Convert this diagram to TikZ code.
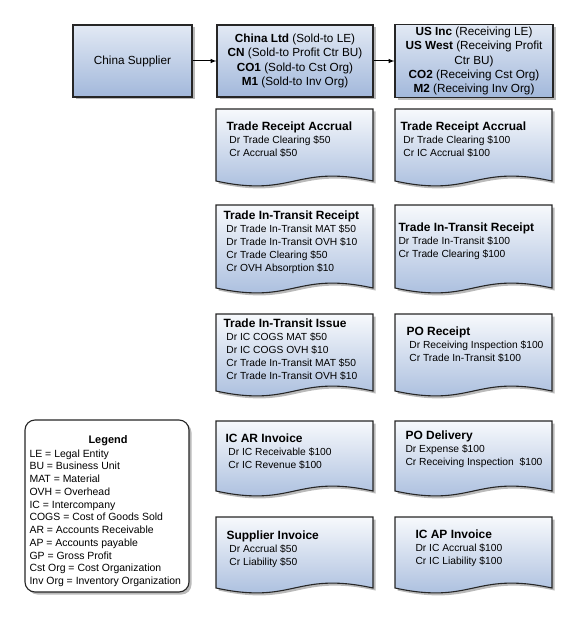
\documentclass[tikz,border=0pt]{standalone}
\usepackage{fontspec}
\setmainfont{Liberation Sans}
\usepackage{xcolor}
\usepackage{tikz}
\usetikzlibrary{shadows}

\definecolor{boxtop}{HTML}{E2E9F4}
\definecolor{boxbot}{HTML}{A2B8DB}
\definecolor{doctop}{HTML}{F7F9FC}

\newcommand{\doctitle}[1]{{\fontsize{12}{13}\selectfont\bfseries #1}}

\begin{document}
\begin{tikzpicture}[
		%Global config
		>=latex,
		x=1bp, y=-1bp,
		line width=1.1bp,
		color=black,
		%Styles
		Shadow/.style={
			drop shadow={shadow xshift=2.5bp, shadow yshift=-2.5bp, fill=black!45, opacity=0.6},
		},
		Entity/.style={
			draw=black!85,
			top color=boxtop,
			bottom color=boxbot,
			Shadow,
			minimum width=156bp,
			minimum height=72bp,
			inner sep=2bp,
			align=center,
			font=\fontsize{11.8}{14.5}\selectfont,
		},
		Doc/.style={
			draw=black!85,
			top color=doctop,
			bottom color=boxbot,
			Shadow,
		},
		DocText/.style={
			anchor=north west,
			inner sep=0pt,
			align=left,
			font=\fontsize{10.3}{13}\selectfont,
		},
		LegendBox/.style={
			draw=black!85,
			fill=white,
			rounded corners=10bp,
			Shadow,
		},
		link/.style={
			->,
			line width=1bp,
		}
		]
		\useasboundingbox (0,0) rectangle (576,624);

		% Top row: legal entities
		\node[Entity, minimum width=119bp] (supplier) at (132.5,61) {China Supplier};
		\node[Entity] (soldto) at (295,61) {\textbf{China Ltd} (Sold-to LE)\\ \textbf{CN} (Sold-to Profit Ctr BU)\\ \textbf{CO1} (Sold-to Cst Org)\\ \textbf{M1} (Sold-to Inv Org)};
		\node[Entity, minimum width=158bp] (receiving) at (474,61) {\textbf{US Inc} (Receiving LE)\\ \textbf{US West} (Receiving Profit\\ Ctr BU)\\ \textbf{CO2} (Receiving Cst Org)\\ \textbf{M2} (Receiving Inv Org)};

		\draw[link] (supplier) -- (soldto);
		\draw[link] (soldto) -- (receiving);

		% Document shapes, left column
		\draw[Doc] (216,109) -- (373,109) -- (373,181) .. controls +(-78,-17) and +(78,17) .. (216,181) -- cycle;
		\draw[Doc] (216,205) -- (373,205) -- (373,288) .. controls +(-78,-17) and +(78,17) .. (216,288) -- cycle;
		\draw[Doc] (216,314) -- (373,314) -- (373,391) .. controls +(-78,-17) and +(78,17) .. (216,391) -- cycle;
		\draw[Doc] (216,421) -- (373,421) -- (373,491) .. controls +(-78,-17) and +(78,17) .. (216,491) -- cycle;
		\draw[Doc] (216,517) -- (373,517) -- (373,588) .. controls +(-78,-17) and +(78,17) .. (216,588) -- cycle;
		% Document shapes, right column
		\draw[Doc] (395,109) -- (552,109) -- (552,181) .. controls +(-78,-17) and +(78,17) .. (395,181) -- cycle;
		\draw[Doc] (395,205) -- (552,205) -- (552,288) .. controls +(-78,-17) and +(78,17) .. (395,288) -- cycle;
		\draw[Doc] (395,314) -- (552,314) -- (552,391) .. controls +(-78,-17) and +(78,17) .. (395,391) -- cycle;
		\draw[Doc] (395,421) -- (552,421) -- (552,491) .. controls +(-78,-17) and +(78,17) .. (395,491) -- cycle;
		\draw[Doc] (395,517) -- (552,517) -- (552,588) .. controls +(-78,-17) and +(78,17) .. (395,588) -- cycle;

		% Accounting entries
		\node[DocText] (soldreceipt) at (226,121.6) {\doctitle{Trade Receipt Accrual}\\\ Dr Trade Clearing \$50\\\ Cr Accrual \$50};
		\node[DocText] (recvreceipt) at (400,121.6) {\doctitle{Trade Receipt Accrual}\\\ Dr Trade Clearing \$100\\\ Cr IC Accrual \$100};
		\node[DocText] (soldintransit) at (223,210.6) {\doctitle{Trade In-Transit Receipt}\\\ Dr Trade In-Transit MAT \$50\\\ Dr Trade In-Transit OVH \$10\\\ Cr Trade Clearing \$50\\\ Cr OVH Absorption \$10};
		\node[DocText] (recvintransit) at (398,222.6) {\doctitle{Trade In-Transit Receipt}\\Dr Trade In-Transit \$100\\Cr Trade Clearing \$100};
		\node[DocText] (soldissue) at (223,318.6) {\doctitle{Trade In-Transit Issue}\\\ Dr IC COGS MAT \$50\\\ Dr IC COGS OVH \$10\\\ Cr Trade In-Transit MAT \$50\\\ Cr Trade In-Transit OVH \$10};
		\node[DocText] (recvporeceipt) at (406,326.6) {\doctitle{PO Receipt}\\\ Dr Receiving Inspection \$100\\\ Cr Trade In-Transit \$100};
		\node[DocText] (soldarinvoice) at (225,433.6) {\doctitle{IC AR Invoice}\\\ Dr IC Receivable \$100\\\ Cr IC Revenue \$100};
		\node[DocText] (recvdelivery) at (405,430.6) {\doctitle{PO Delivery}\\Dr Expense \$100\\Cr Receiving Inspection\ \ \$100};
		\node[DocText] (soldsupinvoice) at (226,530.6) {\doctitle{Supplier Invoice}\\\ Dr Accrual \$50\\\ Cr Liability \$50};
		\node[DocText] (recvapinvoice) at (415,529.6) {\doctitle{IC AP Invoice}\\Dr IC Accrual \$100\\Cr IC Liability \$100};

		% Legend
		\draw[LegendBox] (25,420) rectangle (189,592);
		\node[anchor=base, inner sep=0pt, font=\fontsize{11}{13}\selectfont\bfseries] (legendtitle) at (108,443) {Legend};
		\node[DocText, font=\fontsize{10.5}{12.8}\selectfont] (legend) at (29,449) {LE = Legal Entity\\BU = Business Unit\\MAT = Material\\OVH = Overhead\\IC = Intercompany\\COGS = Cost of Goods Sold\\AR = Accounts Receivable\\AP = Accounts payable\\GP = Gross Profit\\Cst Org = Cost Organization\\Inv Org = Inventory Organization};
	\end{tikzpicture}
\end{document}
